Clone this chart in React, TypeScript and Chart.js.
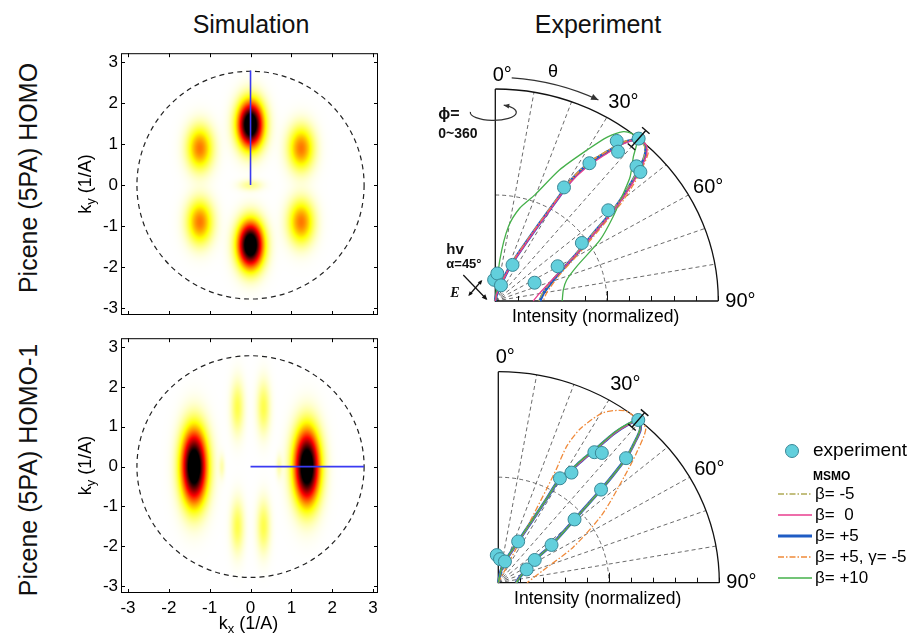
import { useEffect, useRef } from 'react';
import { Chart, registerables } from 'chart.js';

Chart.register(...registerables);

const FONT = '"Liberation Sans", Arial, Helvetica, sans-serif';
Chart.defaults.font.family = FONT;
Chart.defaults.color = '#000';

// ---------- momentum maps (kx, ky in 1/A) ----------
const K_TICKS = [-3, -2, -1, 0, 1, 2, 3];
const KX_MIN = -3.17;
const KX_MAX = 3.12;
const KY_MIN = -3.17;
const KY_MAX = 3.22;
const HORIZON_K = 2.78;
const COLOR_LIMIT = 0.8;

// HOMO lobes: centre, relative weight, widths
const HOMO_KX = [0, 0, -1.24, 1.24, -1.24, 1.24, 0];
const HOMO_KY = [1.48, -1.46, 0.9, 0.9, -0.9, -0.9, 0];
const HOMO_AMP = [1, 1, 0.36, 0.36, 0.36, 0.36, 0.09];
const HOMO_SX = [0.21, 0.21, 0.21, 0.21, 0.21, 0.21, 0.2];
const HOMO_SY = [0.38, 0.38, 0.36, 0.36, 0.36, 0.36, 0.09];
const HOMO_CUT_KX = [0, 0];
const HOMO_CUT_KY = [0, 2.8];

// HOMO-1 lobes
const HOMO1_KX = [-1.38, 1.38, -0.32, 0.32, -0.32, 0.32, -0.7, 0.7];
const HOMO1_KY = [0, 0, 1.48, 1.48, -1.5, -1.5, 0, 0];
const HOMO1_AMP = [1, 1, 0.14, 0.14, 0.14, 0.14, 0.06, 0.06];
const HOMO1_SX = [0.21, 0.21, 0.11, 0.11, 0.11, 0.11, 0.05, 0.05];
const HOMO1_SY = [0.62, 0.62, 0.45, 0.45, 0.45, 0.45, 0.2, 0.2];
const HOMO1_CUT_KX = [0, 2.78];
const HOMO1_CUT_KY = [0, 0];

// ---------- polar intensity plots (theta in degrees, normalized intensity) ----------
const POLAR_GRID_ANGLES = [10, 20, 30, 40, 50, 60, 70, 80];
const INTENSITY_TICKS = [0.1, 0.2, 0.3, 0.4, 0.5, 0.6, 0.7, 0.8, 0.9, 1.0];

const MODEL_LABELS = ['β= -5', 'β=  0', 'β= +5', 'β= +5, γ= -5', 'β= +10'];

// HOMO: experiment
const HOMO_EXP_THETA = [-3, 4, 19, 24.4, 29.9, 33, 35.8, 38, 40, 44.9, 46.9, 49.8, 54.8, 59.6, 63.9];
const HOMO_EXP_R = [0.1, 0.13, 0.078, 0.187, 0.618, 0.775, 0.931, 0.894, 1.0, 0.897, 0.891, 0.663, 0.475, 0.324, 0.196];
const HOMO_EXP_ERR = [0, 0, 0, 0, 0, 0, 0, 0, 0.05, 0, 0, 0, 0, 0, 0];

// HOMO: MSMO curves
const HOMO_THETA = [0, 10, 17, 22, 26, 28.5, 30, 31, 33, 35.5, 37.5, 40, 42.5, 44.5, 46.5, 48.5, 51, 53.5, 58.5, 67, 80, 90];
const HOMO_R_BM5 = [0, 0.035, 0.075, 0.185, 0.3, 0.435, 0.57, 0.69, 0.79, 0.876, 0.948, 0.995, 0.99, 0.95, 0.868, 0.78, 0.672, 0.558, 0.42, 0.29, 0.215, 0.195];
const HOMO_R_B0 = [0, 0.03, 0.065, 0.165, 0.27, 0.4, 0.525, 0.645, 0.752, 0.848, 0.93, 0.99, 1.0, 0.968, 0.892, 0.803, 0.693, 0.575, 0.432, 0.29, 0.2, 0.17];
const HOMO_R_B5 = [0, 0.03, 0.07, 0.175, 0.285, 0.418, 0.55, 0.676, 0.776, 0.864, 0.94, 0.994, 0.996, 0.956, 0.875, 0.788, 0.681, 0.565, 0.429, 0.298, 0.22, 0.2];
const HOMO_R_B5G = [0, 0.035, 0.075, 0.185, 0.295, 0.43, 0.565, 0.685, 0.786, 0.87, 0.945, 0.996, 1.0, 0.978, 0.905, 0.825, 0.718, 0.6, 0.452, 0.312, 0.235, 0.215];
const HOMO_THETA_B10 = [0, 6, 9.5, 14, 19.5, 25, 30, 33, 35.7, 37.8, 40, 42.3, 45.9, 48.5, 53, 58.5, 66, 72.8, 80, 90];
const HOMO_R_B10 = [0, 0.195, 0.355, 0.451, 0.531, 0.683, 0.822, 0.922, 0.984, 1.0, 0.99, 0.92, 0.842, 0.767, 0.662, 0.551, 0.399, 0.335, 0.31, 0.3];

// HOMO-1: experiment
const HOMO1_EXP_THETA = [-3, 4, 16.6, 24.7, 29.4, 32.4, 35.1, 37.3, 39.4, 44.4, 46.5, 49, 53.4, 56.8, 63.9];
const HOMO1_EXP_R = [0.131, 0.112, 0.105, 0.215, 0.568, 0.618, 0.756, 0.773, 0.998, 0.826, 0.641, 0.457, 0.3, 0.197, 0.143];
const HOMO1_EXP_ERR = [0, 0, 0, 0, 0, 0, 0, 0, 0.045, 0, 0, 0, 0, 0, 0];

// HOMO-1: MSMO curves
const HOMO1_THETA = [0, 12, 16.6, 24.7, 27.5, 28.8, 29.4, 31.5, 33.3, 35, 36.5, 38, 39.4, 41.5, 43, 44.4, 45.5, 46.5, 49, 53.4, 56.8, 63.9, 75, 85, 90];
const HOMO1_R_BM5 = [0, 0.062, 0.108, 0.22, 0.335, 0.455, 0.565, 0.625, 0.705, 0.785, 0.885, 0.955, 1.0, 0.965, 0.895, 0.82, 0.725, 0.636, 0.452, 0.296, 0.195, 0.14, 0.1, 0.085, 0.08];
const HOMO1_R_B0 = [0, 0.058, 0.1, 0.21, 0.325, 0.445, 0.555, 0.615, 0.695, 0.776, 0.876, 0.946, 0.998, 0.972, 0.905, 0.832, 0.735, 0.645, 0.46, 0.303, 0.2, 0.145, 0.1, 0.086, 0.08];
const HOMO1_R_B5 = [0, 0.06, 0.105, 0.215, 0.33, 0.45, 0.56, 0.62, 0.7, 0.78, 0.88, 0.95, 1.0, 0.97, 0.9, 0.826, 0.73, 0.641, 0.457, 0.3, 0.197, 0.143, 0.1, 0.085, 0.08];
const HOMO1_R_B10 = [0, 0.064, 0.11, 0.224, 0.34, 0.46, 0.57, 0.63, 0.708, 0.79, 0.89, 0.958, 1.0, 0.968, 0.9, 0.83, 0.732, 0.648, 0.462, 0.305, 0.2, 0.146, 0.102, 0.088, 0.082];
const HOMO1_THETA_B5G = [0, 26.5, 26.3, 26.2, 26.0, 25.6, 27.0, 30.5, 35, 39, 42.4, 45.4, 48.6, 55.5, 63.5, 74, 90];
const HOMO1_R_B5G = [0, 0.19, 0.33, 0.5, 0.6, 0.72, 0.82, 0.935, 0.995, 1.0, 0.99, 0.88, 0.76, 0.57, 0.38, 0.21, 0.13];

// line styles of the five MSMO variants (same order as MODEL_LABELS)
const MODEL_STYLES = [
  { color: '#b0aa55', width: 1.3, dash: [6, 2, 1.5, 2] },
  { color: '#e83c8e', width: 1.3, dash: [] as number[] },
  { color: '#1f5cc4', width: 3, dash: [] as number[] },
  { color: '#f08a3a', width: 1.3, dash: [6, 2, 1.5, 2] },
  { color: '#45b04a', width: 1.3, dash: [] as number[] },
];
// drawing order per panel (lower is drawn on top)
const HOMO_ORDER = [4, 1, 5, 3, 2];
const HOMO1_ORDER = [2, 3, 5, 4, 1];
const EXP_FILL = '#62cfdc';
const EXP_EDGE = '#3a8796';

// ---------- helpers ----------
function polarXY(theta: number[], r: number[]) {
  return theta.map((t, i) => {
    const a = (t * Math.PI) / 180;
    return { x: r[i] * Math.sin(a), y: r[i] * Math.cos(a) };
  });
}

function hotReversed(v: number) {
  const c = (u: number) => Math.max(0, Math.min(1, u));
  const t = 1 - c(v);
  return [c(t / 0.375) * 255, c((t - 0.375) / 0.375) * 255, c((t - 0.75) / 0.25) * 255];
}

function arrowHead(ctx: CanvasRenderingContext2D, x: number, y: number, ang: number, size = 6) {
  ctx.beginPath();
  ctx.moveTo(x, y);
  ctx.lineTo(x - size * Math.cos(ang - 0.42), y - size * Math.sin(ang - 0.42));
  ctx.lineTo(x - size * Math.cos(ang + 0.42), y - size * Math.sin(ang + 0.42));
  ctx.closePath();
  ctx.fill();
}

function drawSubscriptLabel(ctx: CanvasRenderingContext2D, x: number, y: number, sub: string) {
  // "k" + subscript + " (1/A)", centred on (x, y) in the current frame
  const big = `18px ${FONT}`;
  const small = `13px ${FONT}`;
  ctx.font = big;
  const wk = ctx.measureText('k').width;
  const wr = ctx.measureText(' (1/A)').width;
  ctx.font = small;
  const ws = ctx.measureText(sub).width;
  let cx = x - (wk + ws + wr) / 2;
  ctx.textAlign = 'left';
  ctx.textBaseline = 'alphabetic';
  ctx.font = big;
  ctx.fillText('k', cx, y + 6);
  cx += wk;
  ctx.font = small;
  ctx.fillText(sub, cx, y + 10);
  cx += ws;
  ctx.font = big;
  ctx.fillText(' (1/A)', cx, y + 6);
}

type Lobes = { kx: number[]; ky: number[]; amp: number[]; sx: number[]; sy: number[] };

function orbitalMapPlugin(lobes: Lobes, showKx: boolean, kyLabelX: number) {
  return {
    id: 'orbitalMap',
    beforeDatasetsDraw(chart: any) {
      const { ctx, chartArea: a, scales } = chart;
      const xs = scales.x;
      const ys = scales.y;
      const w = Math.round(a.right - a.left);
      const h = Math.round(a.bottom - a.top);
      const off = document.createElement('canvas');
      off.width = w;
      off.height = h;
      const octx = off.getContext('2d')!;
      const img = octx.createImageData(w, h);
      for (let j = 0; j < h; j++) {
        const ky = ys.getValueForPixel(a.top + j + 0.5);
        for (let i = 0; i < w; i++) {
          const kx = xs.getValueForPixel(a.left + i + 0.5);
          let s = 0;
          for (let n = 0; n < lobes.kx.length; n++) {
            const dx = (kx - lobes.kx[n]) / lobes.sx[n];
            const dy = (ky - lobes.ky[n]) / lobes.sy[n];
            s += lobes.amp[n] * Math.exp(-0.5 * (dx * dx + dy * dy));
          }
          const [r, g, b] = hotReversed(s / COLOR_LIMIT);
          const p = (j * w + i) * 4;
          img.data[p] = r;
          img.data[p + 1] = g;
          img.data[p + 2] = b;
          img.data[p + 3] = 255;
        }
      }
      octx.putImageData(img, 0, 0);
      ctx.drawImage(off, a.left, a.top);

      // photoemission horizon
      const cx = xs.getPixelForValue(0);
      const cy = ys.getPixelForValue(0);
      const rx = xs.getPixelForValue(HORIZON_K) - cx;
      const ry = cy - ys.getPixelForValue(HORIZON_K);
      ctx.save();
      ctx.strokeStyle = '#222';
      ctx.lineWidth = 1.2;
      ctx.setLineDash([5, 4]);
      ctx.beginPath();
      ctx.ellipse(cx, cy, rx, ry, 0, 0, Math.PI * 2);
      ctx.stroke();
      ctx.restore();
    },
    afterDatasetsDraw(chart: any) {
      const { ctx, chartArea: a, scales } = chart;
      const xs = scales.x;
      const ys = scales.y;
      ctx.save();
      ctx.strokeStyle = '#000';
      ctx.lineWidth = 1;
      ctx.strokeRect(a.left + 0.5, a.top + 0.5, a.right - a.left - 1, a.bottom - a.top - 1);
      const tl = 4;
      ctx.beginPath();
      for (const v of K_TICKS) {
        const px = Math.round(xs.getPixelForValue(v)) + 0.5;
        ctx.moveTo(px, a.bottom);
        ctx.lineTo(px, a.bottom - tl);
        ctx.moveTo(px, a.top);
        ctx.lineTo(px, a.top + tl);
        const py = Math.round(ys.getPixelForValue(v)) + 0.5;
        ctx.moveTo(a.left, py);
        ctx.lineTo(a.left + tl, py);
        ctx.moveTo(a.right, py);
        ctx.lineTo(a.right - tl, py);
      }
      ctx.stroke();
      ctx.fillStyle = '#000';
      // ky title, rotated
      ctx.save();
      ctx.translate(kyLabelX, (a.top + a.bottom) / 2);
      ctx.rotate(-Math.PI / 2);
      drawSubscriptLabel(ctx, 0, 0, 'y');
      ctx.restore();
      if (showKx) {
        drawSubscriptLabel(ctx, xs.getPixelForValue(0) - 2, a.bottom + 30, 'x');
      }
      ctx.restore();
    },
  };
}

function makeMapConfig(lobes: Lobes, cutX: number[], cutY: number[], showKx: boolean, pad: any) {
  return {
    type: 'scatter',
    data: {
      datasets: [
        {
          data: cutX.map((x, i) => ({ x, y: cutY[i] })),
          showLine: true,
          borderColor: '#3a3af2',
          borderWidth: 1.6,
          pointRadius: 0,
        },
      ],
    },
    options: {
      animation: false,
      responsive: false,
      events: [],
      layout: { padding: pad },
      plugins: { legend: { display: false }, tooltip: { enabled: false } },
      scales: {
        x: {
          type: 'linear',
          min: KX_MIN,
          max: KX_MAX,
          display: showKx,
          afterFit: (s: any) => {
            s.height = showKx ? 42 : 0;
          },
          afterBuildTicks: (s: any) => {
            s.ticks = K_TICKS.map((value) => ({ value }));
          },
          grid: { display: false, drawTicks: false },
          border: { display: false },
          ticks: { font: { size: 17 }, color: '#000', padding: 5, maxRotation: 0, autoSkip: false, callback: (v: number) => String(v) },
        },
        y: {
          type: 'linear',
          min: KY_MIN,
          max: KY_MAX,
          afterFit: (s: any) => {
            s.width = 61;
          },
          afterBuildTicks: (s: any) => {
            s.ticks = K_TICKS.map((value) => ({ value }));
          },
          grid: { display: false, drawTicks: false },
          border: { display: false },
          ticks: { font: { size: 17 }, color: '#000', padding: 3, autoSkip: false, callback: (v: number) => String(v) },
        },
      },
    },
    plugins: [orbitalMapPlugin(lobes, showKx, 25)],
  };
}

type Curve = { theta: number[]; r: number[] };

function polarFramePlugin(expTheta: number[], expR: number[], expErr: number[], annotate: boolean, legendOffset: { x: number; y: number } | null) {
  return {
    id: 'polarFrame',
    beforeDatasetsDraw(chart: any) {
      const { ctx, scales } = chart;
      const xs = scales.x;
      const ys = scales.y;
      const pt = (th: number, r: number) => {
        const a = (th * Math.PI) / 180;
        return { x: xs.getPixelForValue(r * Math.sin(a)), y: ys.getPixelForValue(r * Math.cos(a)) };
      };
      const o = pt(0, 0);
      const rx = xs.getPixelForValue(1) - o.x;
      const ry = o.y - ys.getPixelForValue(1);
      ctx.save();
      // dashed grid
      ctx.strokeStyle = '#5a5a5a';
      ctx.lineWidth = 0.9;
      ctx.setLineDash([4, 3]);
      ctx.beginPath();
      for (const th of POLAR_GRID_ANGLES) {
        const p = pt(th, 1);
        ctx.moveTo(o.x, o.y);
        ctx.lineTo(p.x, p.y);
      }
      ctx.stroke();
      ctx.beginPath();
      ctx.ellipse(o.x, o.y, rx * 0.5, ry * 0.5, 0, -Math.PI / 2, 0);
      ctx.stroke();
      // solid frame
      ctx.setLineDash([]);
      ctx.strokeStyle = '#111';
      ctx.lineWidth = 1.3;
      ctx.beginPath();
      ctx.moveTo(o.x, ys.getPixelForValue(1));
      ctx.lineTo(o.x, o.y);
      ctx.lineTo(xs.getPixelForValue(1), o.y);
      ctx.stroke();
      ctx.beginPath();
      ctx.ellipse(o.x, o.y, rx, ry, 0, -Math.PI / 2, 0);
      ctx.stroke();
      ctx.lineWidth = 1;
      ctx.beginPath();
      for (const v of INTENSITY_TICKS) {
        const px = Math.round(xs.getPixelForValue(v)) + 0.5;
        ctx.moveTo(px, o.y);
        ctx.lineTo(px, o.y - (Math.abs(v - 0.5) < 1e-6 ? 10 : 5));
      }
      ctx.stroke();

      // angle labels
      ctx.fillStyle = '#000';
      ctx.font = `20px ${FONT}`;
      ctx.textAlign = 'center';
      ctx.textBaseline = 'middle';
      ctx.fillText('0°', o.x + 7, ys.getPixelForValue(1) - 14);
      const p30 = pt(31.5, 1.1);
      ctx.fillText('30°', p30.x, p30.y);
      const p60 = pt(60.7, 1.095);
      ctx.fillText('60°', p60.x, p60.y);
      ctx.textAlign = 'left';
      ctx.fillText('90°', xs.getPixelForValue(1) + 7, o.y);
      ctx.textAlign = 'center';
      ctx.textBaseline = 'alphabetic';
      ctx.font = `17.5px ${FONT}`;
      ctx.fillText('Intensity (normalized)', xs.getPixelForValue(0.45), o.y + 21);

      if (annotate) {
        ctx.strokeStyle = '#333';
        ctx.fillStyle = '#333';
        ctx.lineWidth = 1.2;
        // theta arrow along the outer rim
        const toRad = (th: number) => ((th - 90) * Math.PI) / 180;
        const R = 1.055;
        ctx.beginPath();
        ctx.ellipse(o.x, o.y, rx * R, ry * R, 0, toRad(4), toRad(26));
        ctx.stroke();
        const phiEnd = toRad(26);
        const ex = o.x + rx * R * Math.cos(phiEnd);
        const ey = o.y + ry * R * Math.sin(phiEnd);
        arrowHead(ctx, ex, ey, Math.atan2(ry * Math.cos(phiEnd), -rx * Math.sin(phiEnd)), 8);
        ctx.fillStyle = '#000';
        ctx.font = `18px ${FONT}`;
        ctx.textAlign = 'center';
        ctx.textBaseline = 'middle';
        const pth = pt(13.5, 1.11);
        ctx.fillText('θ', pth.x, pth.y);

        // azimuthal rotation symbol
        const rc = pt(0, 0.89);
        const ecx = rc.x - 2;
        const erx = 23;
        const ery = 8;
        const endA = -Math.PI * 0.35;
        ctx.strokeStyle = '#333';
        ctx.fillStyle = '#333';
        ctx.beginPath();
        ctx.ellipse(ecx, rc.y, erx, ery, 0, Math.PI * 1.02, endA, true);
        ctx.stroke();
        arrowHead(ctx, ecx + erx * Math.cos(endA), rc.y + ery * Math.sin(endA), Math.atan2(-ery * Math.cos(endA), erx * Math.sin(endA)), 6);

        ctx.fillStyle = '#111';
        ctx.textAlign = 'left';
        ctx.font = `bold 16px ${FONT}`;
        ctx.fillText('ϕ=', o.x - 57, o.y - 186);
        ctx.font = `bold 14px ${FONT}`;
        ctx.fillText('0~360', o.x - 57, o.y - 167);

        // photon incidence and polarisation
        ctx.font = `bold 15px ${FONT}`;
        ctx.fillText('hv', o.x - 49, o.y - 51);
        ctx.font = `bold 13px ${FONT}`;
        ctx.fillText('α=45°', o.x - 49, o.y - 37);
        ctx.font = `italic bold 14px "Liberation Serif", serif`;
        ctx.fillText('E', o.x - 45, o.y - 8);
        ctx.strokeStyle = '#111';
        ctx.fillStyle = '#111';
        ctx.lineWidth = 1.2;
        ctx.beginPath();
        ctx.moveTo(o.x - 32, o.y - 26);
        ctx.lineTo(o.x - 9, o.y - 2);
        ctx.stroke();
        arrowHead(ctx, o.x - 8, o.y - 1, Math.atan2(24, 23), 6);
        ctx.beginPath();
        ctx.moveTo(o.x - 26, o.y - 6);
        ctx.lineTo(o.x - 14, o.y - 20);
        ctx.stroke();
        arrowHead(ctx, o.x - 27, o.y - 5, Math.atan2(14, -12), 5);
        arrowHead(ctx, o.x - 13, o.y - 21, Math.atan2(-14, 12), 5);
      }
      ctx.restore();
    },
    afterDatasetsDraw(chart: any) {
      const { ctx, scales } = chart;
      const xs = scales.x;
      const ys = scales.y;
      const pt = (th: number, r: number) => {
        const a = (th * Math.PI) / 180;
        return { x: xs.getPixelForValue(r * Math.sin(a)), y: ys.getPixelForValue(r * Math.cos(a)) };
      };
      ctx.save();
      ctx.strokeStyle = '#111';
      ctx.lineWidth = 1.4;
      expErr.forEach((err, i) => {
        if (!err) return;
        const p1 = pt(expTheta[i], expR[i] - err);
        const p2 = pt(expTheta[i], expR[i] + err);
        const dx = p2.x - p1.x;
        const dy = p2.y - p1.y;
        const len = Math.hypot(dx, dy) || 1;
        const nx = (-dy / len) * 5;
        const ny = (dx / len) * 5;
        ctx.beginPath();
        ctx.moveTo(p1.x, p1.y);
        ctx.lineTo(p2.x, p2.y);
        ctx.moveTo(p1.x - nx, p1.y - ny);
        ctx.lineTo(p1.x + nx, p1.y + ny);
        ctx.moveTo(p2.x - nx, p2.y - ny);
        ctx.lineTo(p2.x + nx, p2.y + ny);
        ctx.stroke();
      });
      ctx.restore();

      if (legendOffset) {
        const L = (x: number, y: number) => ({ x: x - legendOffset.x, y: y - legendOffset.y });
        ctx.save();
        const m = L(792, 451);
        ctx.fillStyle = EXP_FILL;
        ctx.strokeStyle = EXP_EDGE;
        ctx.lineWidth = 1;
        ctx.beginPath();
        ctx.arc(m.x, m.y, 6.5, 0, Math.PI * 2);
        ctx.fill();
        ctx.stroke();
        ctx.fillStyle = '#000';
        ctx.textAlign = 'left';
        ctx.textBaseline = 'middle';
        ctx.font = `19px ${FONT}`;
        const t0 = L(813, 451);
        ctx.fillText('experiment', t0.x, t0.y);
        ctx.font = `bold 12px ${FONT}`;
        const t1 = L(813, 477);
        ctx.fillText('MSMO', t1.x, t1.y);
        const rows = [494, 515, 536, 557, 578];
        MODEL_LABELS.forEach((label, i) => {
          const st = MODEL_STYLES[i];
          const a = L(778, rows[i]);
          const b = L(812, rows[i]);
          ctx.strokeStyle = st.color;
          ctx.lineWidth = st.width;
          ctx.setLineDash(st.dash);
          ctx.beginPath();
          ctx.moveTo(a.x, a.y);
          ctx.lineTo(b.x, b.y);
          ctx.stroke();
          ctx.setLineDash([]);
          ctx.font = `17px ${FONT}`;
          ctx.fillText(label, b.x + 3, a.y);
        });
        ctx.restore();
      }
    },
  };
}

function makePolarConfig(
  expTheta: number[],
  expR: number[],
  expErr: number[],
  curves: Curve[],
  orders: number[],
  pad: any,
  annotate: boolean,
  legendOffset: { x: number; y: number } | null
) {
  const curveSets = curves.map((c, i) => ({
    label: MODEL_LABELS[i],
    data: polarXY(c.theta, c.r),
    showLine: true,
    pointRadius: 0,
    borderColor: MODEL_STYLES[i].color,
    borderWidth: MODEL_STYLES[i].width,
    borderDash: MODEL_STYLES[i].dash,
    tension: 0.25,
    clip: false,
    order: orders[i],
  }));
  return {
    type: 'scatter',
    data: {
      datasets: [
        {
          label: 'experiment',
          data: polarXY(expTheta, expR),
          showLine: false,
          pointRadius: 6.5,
          pointBackgroundColor: EXP_FILL,
          pointBorderColor: EXP_EDGE,
          pointBorderWidth: 1,
          clip: false,
          order: 0,
        },
        ...curveSets,
      ],
    },
    options: {
      animation: false,
      responsive: false,
      events: [],
      layout: { padding: pad },
      plugins: { legend: { display: false }, tooltip: { enabled: false } },
      scales: {
        x: { type: 'linear', min: 0, max: 1, display: false },
        y: { type: 'linear', min: 0, max: 1, display: false },
      },
    },
    plugins: [polarFramePlugin(expTheta, expR, expErr, annotate, legendOffset)],
  };
}

function ChartBox({ left, top, width, height, make }: { left: number; top: number; width: number; height: number; make: () => any }) {
  const ref = useRef<HTMLCanvasElement>(null);
  useEffect(() => {
    const chart = new Chart(ref.current as HTMLCanvasElement, make());
    return () => chart.destroy();
  }, []);
  return <canvas ref={ref} width={width} height={height} style={{ position: 'absolute', left, top, width, height }} />;
}

const textStyle = { position: 'absolute' as const, fontFamily: FONT, fontSize: 25, lineHeight: '25px', color: '#111', whiteSpace: 'nowrap' as const };

export default function App() {
  return (
    <div style={{ position: 'absolute', left: 0, top: 0, width: 914, height: 635, background: '#fff', overflow: 'hidden' }}>
      <div style={{ ...textStyle, left: 251, top: 12, transform: 'translateX(-50%)' }}>Simulation</div>
      <div style={{ ...textStyle, left: 598, top: 12, transform: 'translateX(-50%)' }}>Experiment</div>
      <div style={{ ...textStyle, left: 28, top: 178, transform: 'translate(-50%, -50%) rotate(-90deg)' }}>Picene (5PA) HOMO</div>
      <div style={{ ...textStyle, left: 28, top: 470, transform: 'translate(-50%, -50%) rotate(-90deg)' }}>Picene (5PA) HOMO-1</div>

      <ChartBox
        left={60}
        top={40}
        width={330}
        height={290}
        make={() =>
          makeMapConfig(
            { kx: HOMO_KX, ky: HOMO_KY, amp: HOMO_AMP, sx: HOMO_SX, sy: HOMO_SY },
            HOMO_CUT_KX,
            HOMO_CUT_KY,
            false,
            { left: 0, top: 9, right: 12, bottom: 15 }
          )
        }
      />
      <ChartBox
        left={60}
        top={325}
        width={330}
        height={310}
        make={() =>
          makeMapConfig(
            { kx: HOMO1_KX, ky: HOMO1_KY, amp: HOMO1_AMP, sx: HOMO1_SX, sy: HOMO1_SY },
            HOMO1_CUT_KX,
            HOMO1_CUT_KY,
            true,
            { left: 0, top: 8, right: 12, bottom: 0 }
          )
        }
      />
      <ChartBox
        left={420}
        top={55}
        width={340}
        height={280}
        make={() =>
          makePolarConfig(
            HOMO_EXP_THETA,
            HOMO_EXP_R,
            HOMO_EXP_ERR,
            [
              { theta: HOMO_THETA, r: HOMO_R_BM5 },
              { theta: HOMO_THETA, r: HOMO_R_B0 },
              { theta: HOMO_THETA, r: HOMO_R_B5 },
              { theta: HOMO_THETA, r: HOMO_R_B5G },
              { theta: HOMO_THETA_B10, r: HOMO_R_B10 },
            ],
            HOMO_ORDER,
            { left: 75.3, right: 41.7, top: 34, bottom: 34 },
            true,
            null
          )
        }
      />
      <ChartBox
        left={420}
        top={335}
        width={494}
        height={300}
        make={() =>
          makePolarConfig(
            HOMO1_EXP_THETA,
            HOMO1_EXP_R,
            HOMO1_EXP_ERR,
            [
              { theta: HOMO1_THETA, r: HOMO1_R_BM5 },
              { theta: HOMO1_THETA, r: HOMO1_R_B0 },
              { theta: HOMO1_THETA, r: HOMO1_R_B5 },
              { theta: HOMO1_THETA_B5G, r: HOMO1_R_B5G },
              { theta: HOMO1_THETA, r: HOMO1_R_B10 },
            ],
            HOMO1_ORDER,
            { left: 78.3, right: 194.7, top: 36.7, bottom: 52.3 },
            false,
            { x: 420, y: 335 }
          )
        }
      />
    </div>
  );
}
